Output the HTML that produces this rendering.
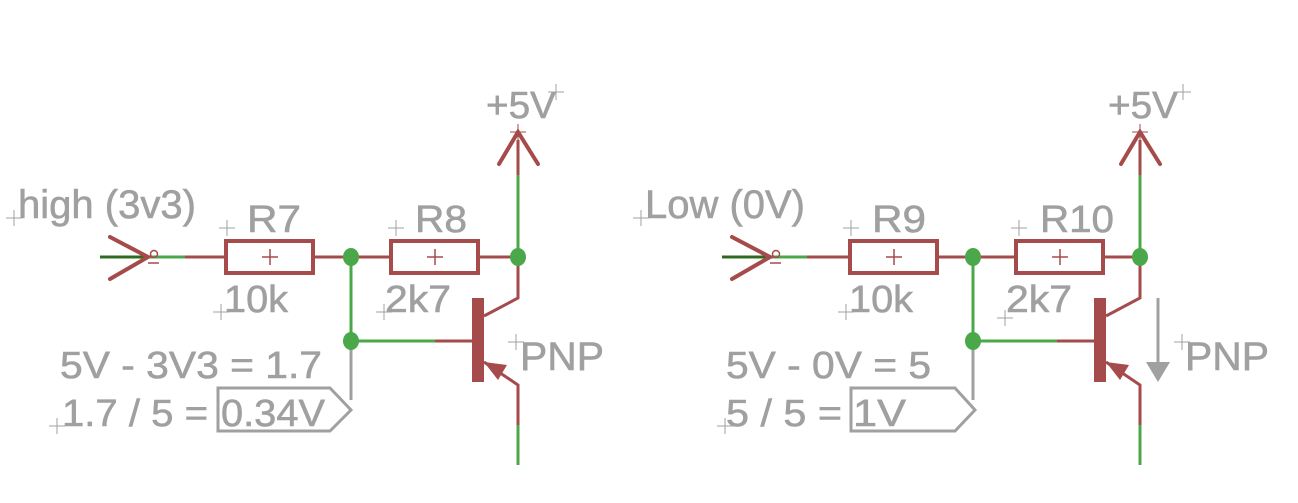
<!DOCTYPE html>
<html><head><meta charset="utf-8"><style>
html,body{margin:0;padding:0;background:#fff;}
svg{display:block;}
text{font-family:"Liberation Sans",sans-serif;fill:#a0a0a0;stroke:#a0a0a0;stroke-width:0.6;}
</style></head><body>
<svg width="1298" height="503" viewBox="0 0 1298 503">
<defs>
<g id="circ">
  <line x1="100" y1="257" x2="150" y2="257" stroke="#2f6b1e" stroke-width="3"/>
  <line x1="150" y1="257" x2="185" y2="257" stroke="#4aa84a" stroke-width="3"/>
  <polyline points="110,237 148,257 110,279" fill="none" stroke="#a54b4b" stroke-width="4" stroke-linecap="round"/>
  <circle cx="154" cy="254" r="3.5" fill="none" stroke="#a54b4b" stroke-width="1.5"/>
  <line x1="148" y1="263" x2="159" y2="263" stroke="#a54b4b" stroke-width="1.5"/>
  <line x1="185" y1="257" x2="518" y2="257" stroke="#a54b4b" stroke-width="3"/>
  <line x1="518" y1="140" x2="518" y2="175" stroke="#a54b4b" stroke-width="3"/>
  <polyline points="499,164 518,132 538,164" fill="none" stroke="#a54b4b" stroke-width="4" stroke-linecap="round"/>
  <line x1="518" y1="175" x2="518" y2="257" stroke="#4aa84a" stroke-width="3"/>
  <polyline points="518,257 518,298 484,316" fill="none" stroke="#a54b4b" stroke-width="3"/>
  <rect x="472" y="298" width="12" height="84" fill="#a54b4b"/>
  <line x1="351" y1="257" x2="351" y2="341" stroke="#4aa84a" stroke-width="3"/>
  <line x1="351" y1="341" x2="435" y2="341" stroke="#4aa84a" stroke-width="3"/>
  <line x1="435" y1="341" x2="472" y2="341" stroke="#a54b4b" stroke-width="3"/>
  <line x1="351" y1="341" x2="351" y2="400" stroke="#a0a0a0" stroke-width="3"/>
  <polyline points="484,362 518,385 518,425" fill="none" stroke="#a54b4b" stroke-width="3"/>
  <polygon points="484,362 507,365 498,380" fill="#a54b4b"/>
  <line x1="518" y1="425" x2="518" y2="465" stroke="#4aa84a" stroke-width="3"/>
  <ellipse cx="351" cy="257" rx="8" ry="9" fill="#4aa84a"/>
  <ellipse cx="518" cy="257" rx="8" ry="9" fill="#4aa84a"/>
  <ellipse cx="351" cy="341" rx="8" ry="9" fill="#4aa84a"/>
</g>
<g id="res">
  <rect x="0" y="0" width="87" height="32" fill="#fff" stroke="#a54b4b" stroke-width="4"/>
  <line x1="36" y1="16" x2="52" y2="16" stroke="#a54b4b" stroke-width="1.5"/>
  <line x1="44" y1="8" x2="44" y2="24" stroke="#a54b4b" stroke-width="1.5"/>
</g>
</defs>

<g>
  <use href="#circ"/>
  <use href="#res" x="226" y="241"/>
  <use href="#res" x="391" y="241"/>
  <polygon points="218,388 330,388 351,410 330,431 218,431" fill="none" stroke="#a0a0a0" stroke-width="3"/>
  <text x="486" y="118" font-size="38" textLength="70" lengthAdjust="spacingAndGlyphs">+5V</text>
  <text x="18" y="218" font-size="40" textLength="178" lengthAdjust="spacingAndGlyphs">high (3v3)</text>
  <text x="247" y="232" font-size="38" textLength="54" lengthAdjust="spacingAndGlyphs">R7</text>
  <text x="415" y="232" font-size="38" textLength="52" lengthAdjust="spacingAndGlyphs">R8</text>
  <text x="224" y="312" font-size="38" textLength="64" lengthAdjust="spacingAndGlyphs">10k</text>
  <text x="385" y="312" font-size="38" textLength="66" lengthAdjust="spacingAndGlyphs">2k7</text>
  <text x="520" y="370" font-size="40" textLength="84" lengthAdjust="spacingAndGlyphs">PNP</text>
  <text x="60" y="378" font-size="38" textLength="262" lengthAdjust="spacingAndGlyphs">5V - 3V3 = 1.7</text>
  <text x="62" y="426" font-size="38" textLength="146" lengthAdjust="spacingAndGlyphs">1.7 / 5 =</text>
  <text x="221" y="426" font-size="38" textLength="104" lengthAdjust="spacingAndGlyphs">0.34V</text>
</g>

<g>
  <use href="#circ" x="622"/>
  <use href="#res" x="850" y="241"/>
  <use href="#res" x="1016" y="241"/>
  <polygon points="851,388 955,388 975,410 955,431 851,431" fill="none" stroke="#a0a0a0" stroke-width="3"/>
  <line x1="1158" y1="298" x2="1158" y2="365" stroke="#a0a0a0" stroke-width="3"/>
  <polygon points="1146,362 1170,362 1158,382" fill="#a0a0a0"/>
  <text x="1108" y="118" font-size="38" textLength="70" lengthAdjust="spacingAndGlyphs">+5V</text>
  <text x="645" y="218" font-size="40" textLength="160" lengthAdjust="spacingAndGlyphs">Low (0V)</text>
  <text x="872" y="232" font-size="38" textLength="54" lengthAdjust="spacingAndGlyphs">R9</text>
  <text x="1040" y="232" font-size="38" textLength="74" lengthAdjust="spacingAndGlyphs">R10</text>
  <text x="849" y="312" font-size="38" textLength="64" lengthAdjust="spacingAndGlyphs">10k</text>
  <text x="1006" y="312" font-size="38" textLength="66" lengthAdjust="spacingAndGlyphs">2k7</text>
  <text x="1185" y="370" font-size="40" textLength="84" lengthAdjust="spacingAndGlyphs">PNP</text>
  <text x="726" y="378" font-size="38" textLength="205" lengthAdjust="spacingAndGlyphs">5V - 0V = 5</text>
  <text x="726" y="426" font-size="38" textLength="116" lengthAdjust="spacingAndGlyphs">5 / 5 =</text>
  <text x="853" y="426" font-size="38" textLength="53" lengthAdjust="spacingAndGlyphs">1V</text>
</g>

<g stroke="#a0a0a0" stroke-width="1">
  <path d="M556,84v16M548,92h16 M14,210v16M6,218h16 M227,220v16M219,228h16 M396,220v16M388,228h16 M221,304v16M213,312h16 M384,304v16M376,312h16 M516,334v16M508,342h16 M57,418v16M49,426h16"/>
  <path d="M1183,84v16M1175,92h16 M641,210v16M633,218h16 M851,220v16M843,228h16 M1019,220v16M1011,228h16 M846,304v16M838,312h16 M1005,310v16M997,318h16 M1182,334v16M1174,342h16 M725,418v16M717,426h16"/>
</g>
<g stroke="#a54b4b" stroke-width="1">
  <path d="M518,124v16M510,132h16 M1140,124v16M1132,132h16"/>
</g>
</svg>
</body></html>
